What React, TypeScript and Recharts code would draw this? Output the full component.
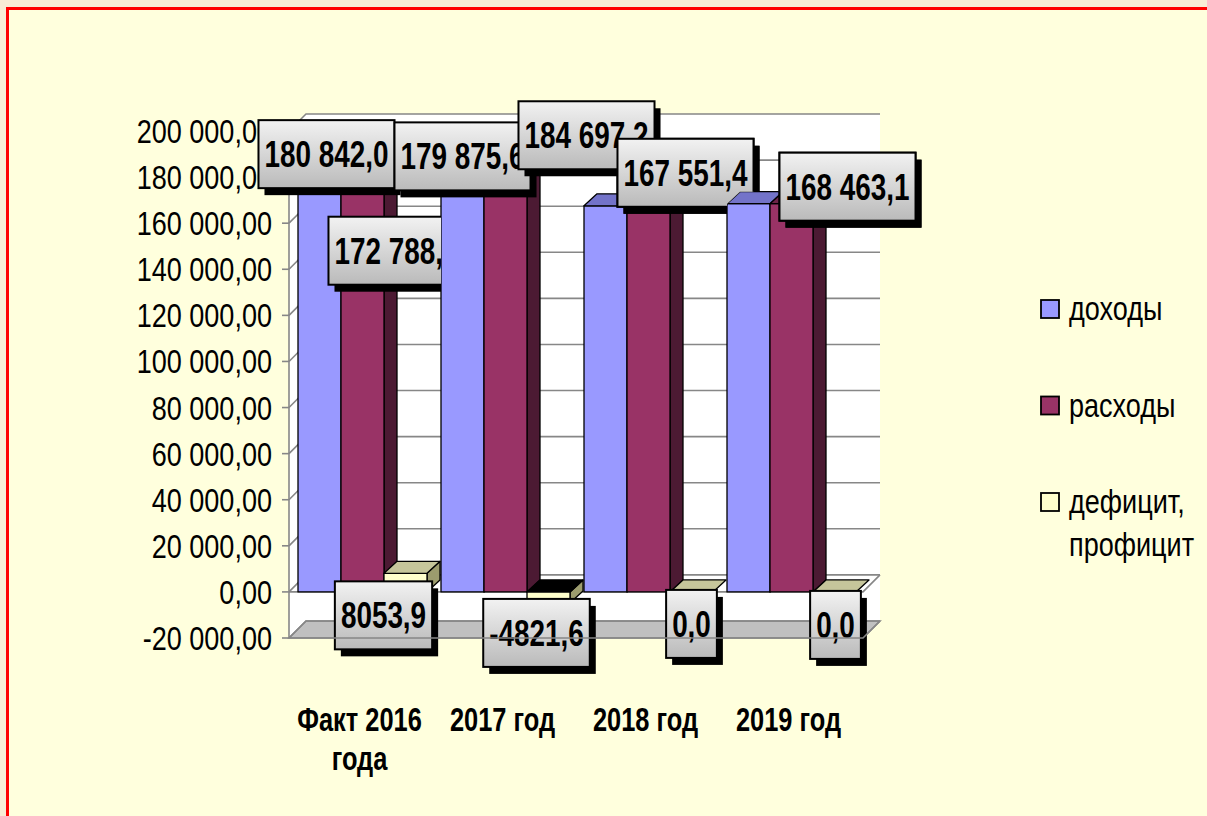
import React from 'react';
import { BarChart, Bar, XAxis, YAxis, CartesianGrid, LabelList } from 'recharts';

// values
const categories = ['Факт 2016\nгода', '2017 год', '2018 год', '2019 год'];
const income = [180842.0, 179875.6, 167551.4, 168463.1];
const expenses = [172788.1, 184697.2, 167551.4, 168463.1];
const balance = [8053.9, -4821.6, 0.0, 0.0];
const seriesNames = ['доходы', 'расходы', 'дефицит,\nпрофицит'];
const yTicks = [-20000, 0, 20000, 40000, 60000, 80000, 100000, 120000, 140000, 160000, 180000, 200000];

const rows = categories.map((name, i) => ({ name, income: income[i], expenses: expenses[i], balance: balance[i] }));

const W = 1207;
const H = 816;
const PLOT = { left: 289, top: 131, right: 863, bottom: 638 };
const PAD_LEFT = 2;
const BAND = (PLOT.right - PLOT.left - PAD_LEFT) / categories.length;
const Y_MIN = -20000;
const Y_MAX = 200000;
const WALL = { dx: 17, dy: -17 };
const DEPTH = { dx: 13, dy: -12 };
const Y_AXIS_W = 160;
const X_AXIS_H = 100;
// no Arial Narrow here: squeeze Liberation Sans to the same 82% width
const FONT = '"Liberation Sans", Arial, sans-serif';
const NARROW_X = 0.82;
const GRID = '#878787';
const LABEL_FS = 34;

const series = [
  { key: 'income', front: '#9999FF', top: '#7373C9', side: '#4D4D80' },
  { key: 'expenses', front: '#993366', top: '#6E2449', side: '#4C1A33' },
  { key: 'balance', front: '#FFFFCC', top: '#C6C69B', side: '#9C9C6E' },
];

// offsets of each label box from the top centre of its bar (labels were moved by hand in the original)
const labelNudge: Record<string, number[][]> = {
  income: [[7, -21], [0, -21], [80, -33], [99, -17]],
  expenses: [[34, 57], [81, -31], [37, -33], [56, -17]],
  balance: [[-22, 42], [-12, 41], [0, 32], [1, 33]],
};

const yPx = (v: number) => PLOT.top + ((Y_MAX - v) * (PLOT.bottom - PLOT.top)) / (Y_MAX - Y_MIN);

const fmt = (v: number, digits: number, groupAll: boolean) => {
  const [int, frac] = Math.abs(v).toFixed(digits).split('.');
  const grouped = groupAll || int.length > 4 ? int.replace(/\B(?=(\d{3})+(?!\d))/g, ' ') : int;
  return (v < 0 ? '-' : '') + grouped + (frac ? ',' + frac : '');
};

// rough advance widths of Arial Narrow Bold, in em
const textEm = (s: string) =>
  s.split('').reduce((a, c) => a + (c === ' ' || c === ',' ? 0.228 : c === '-' ? 0.273 : 0.456), 0);

const NText = ({ x, y, sy = 1, anchor = 'start', size, bold, children }: any) => (
  <text
    transform={`translate(${x} ${y}) scale(${NARROW_X} ${sy})`}
    textAnchor={anchor}
    fontFamily={FONT}
    fontWeight={bold ? 700 : 400}
    fontSize={size}
    fill="#000"
  >
    {children}
  </text>
);

function Box3D(props: any) {
  const { x, y, width, height, value, colors } = props;
  const top = Math.min(y, y + height);
  const h = Math.abs(height);
  const x2 = x + width;
  const { dx, dy } = DEPTH;
  const topFace = `M${x},${top} L${x + dx},${top + dy} L${x2 + dx},${top + dy} L${x2},${top} Z`;
  const sideFace = `M${x2},${top} L${x2 + dx},${top + dy} L${x2 + dx},${top + h + dy} L${x2},${top + h} Z`;
  return (
    <g stroke="#000" strokeWidth={1.3} strokeLinejoin="round">
      {h > 0 && <path d={sideFace} fill={colors.side} />}
      {h > 0 && <rect x={x} y={top} width={width} height={h} fill={colors.front} />}
      <path d={topFace} fill={value < 0 ? '#000' : colors.top} />
    </g>
  );
}

function makeLabel(key: string) {
  return (p: any) => {
    const vb = p.viewBox && p.viewBox.width !== undefined ? p.viewBox : p;
    const { x, y, width, height } = vb;
    const index = typeof p.index === 'number' ? p.index : Math.round((x - PLOT.left - PAD_LEFT) / BAND);
    const top = Math.min(y, y + (height || 0));
    const [nx, ny] = labelNudge[key][index];
    const cx = x + width / 2 + nx;
    const cy = top + ny;
    const text = fmt(Number(p.value), 1, false);
    const bw = textEm(text) * LABEL_FS + 12;
    const bh = 68;
    const bx = cx - bw / 2;
    const by = cy - bh / 2;

    // bars of the next category stand in front of this label
    let clip = null;
    const id = `lbl-${key}-${index}`;
    if (index + 1 < categories.length) {
      const seriesPos = series.findIndex((s) => s.key === key);
      const L = x - seriesPos * width + BAND;
      const T = yPx(income[index + 1]);
      const Z = yPx(0);
      const overlaps = bx + bw + 7 > L && by + bh + 7 > T + DEPTH.dy;
      if (overlaps) {
        const { dx, dy } = DEPTH;
        clip = (
          <clipPath id={id}>
            <path
              clipRule="evenodd"
              d={`M-2000,-2000 H4000 V4000 H-2000 Z M${L},${Z} L${L},${T} L${L + dx},${T + dy} L${L + width + dx},${T + dy} L${L + width + dx},${Z + dy} L${L + width},${Z} Z`}
            />
          </clipPath>
        );
      }
    }

    return (
      <g clipPath={clip ? `url(#${id})` : undefined}>
        {clip && <defs>{clip}</defs>}
        <rect x={bx + 6} y={by + 7} width={bw} height={bh} fill="#000" />
        <rect x={bx} y={by} width={bw} height={bh} fill="url(#lblGrad)" stroke="#000" strokeWidth={2} />
        <NText x={cx} y={cy + 13} sy={1.1} anchor="middle" size={LABEL_FS} bold>
          {text}
        </NText>
      </g>
    );
  };
}

const ValueTick = ({ x, y, payload }: any) => (
  <NText x={x} y={y + 12} anchor="end" size={33}>
    {fmt(payload.value, 2, true)}
  </NText>
);

const CategoryTick = ({ x, y, payload }: any) => (
  <g>
    {String(payload.value).split('\n').map((line, i) => (
      <NText key={i} x={x - 3} y={y + 85 + i * 39} sy={1.05} anchor="middle" size={31} bold>
        {line}
      </NText>
    ))}
  </g>
);

// back wall + side wall gridline
const GridLine = (p: any) => {
  const { x1, y1, x2 } = p;
  return (
    <path
      key={p.key}
      d={`M${x1},${y1} L${x1 + WALL.dx},${y1 + WALL.dy} L${x2 + WALL.dx},${y1 + WALL.dy}`}
      fill="none"
      stroke={GRID}
      strokeWidth={1.6}
    />
  );
};

export default function App() {
  const zeroY = yPx(0);
  return (
    <div style={{ position: 'fixed', left: 0, top: 0, width: W, height: H, overflow: 'hidden', background: '#F8EDD6' }}>
      <div style={{ position: 'absolute', left: 6, top: 7, width: W + 40, height: H + 40, border: '3px solid #FF0000', background: '#FFFFDD' }} />

      {/* 3-D walls and floor */}
      <svg width={W} height={H} style={{ position: 'absolute', left: 0, top: 0 }}>
        <defs>
          <linearGradient id="lblGrad" x1="0" y1="0" x2="0" y2="1">
            <stop offset="0%" stopColor="#F2F2F2" />
            <stop offset="100%" stopColor="#BABABA" />
          </linearGradient>
        </defs>
        <polygon
          points={`${PLOT.left},${PLOT.top} ${PLOT.left + WALL.dx},${PLOT.top + WALL.dy} ${PLOT.left + WALL.dx},${PLOT.bottom + WALL.dy} ${PLOT.left},${PLOT.bottom}`}
          fill="#FFFFFF"
        />
        <rect x={PLOT.left + WALL.dx} y={PLOT.top + WALL.dy} width={PLOT.right - PLOT.left} height={PLOT.bottom - PLOT.top} fill="#FFFFFF" />
        <polygon
          points={`${PLOT.left},${PLOT.bottom} ${PLOT.right},${PLOT.bottom} ${PLOT.right + WALL.dx},${PLOT.bottom + WALL.dy} ${PLOT.left + WALL.dx},${PLOT.bottom + WALL.dy}`}
          fill="#C0C0C0"
          stroke={GRID}
          strokeWidth={1.6}
        />
        <path d={`M${PLOT.left},${zeroY} L${PLOT.right},${zeroY} L${PLOT.right + WALL.dx},${zeroY + WALL.dy}`} fill="none" stroke={GRID} strokeWidth={1.6} />
      </svg>

      <div style={{ position: 'absolute', left: 0, top: 0 }}>
        <BarChart
          width={W}
          height={H}
          data={rows}
          barGap={0}
          barSize={43}
          margin={{ top: PLOT.top, right: W - PLOT.right, bottom: H - PLOT.bottom - X_AXIS_H, left: PLOT.left - Y_AXIS_W }}
        >
          <CartesianGrid vertical={false} horizontal={GridLine} />
          <XAxis dataKey="name" height={X_AXIS_H} axisLine={false} tickLine={false} interval={0} padding={{ left: PAD_LEFT, right: 0 }} tick={<CategoryTick />} />
          <YAxis
            type="number"
            width={Y_AXIS_W}
            domain={[Y_MIN, Y_MAX]}
            ticks={yTicks}
            interval={0}
            tickSize={7}
            tickMargin={10}
            axisLine={{ stroke: GRID, strokeWidth: 1.6 }}
            tickLine={{ stroke: GRID, strokeWidth: 1.6 }}
            tick={<ValueTick />}
          />
          {series.map((s) => (
            <Bar key={s.key} dataKey={s.key} isAnimationActive={false} shape={(p: any) => <Box3D {...p} colors={s} />}>
              <LabelList dataKey={s.key} content={makeLabel(s.key)} />
            </Bar>
          ))}
        </BarChart>
      </div>

      {/* front edge of the floor lies over the labels */}
      <svg width={W} height={H} style={{ position: 'absolute', left: 0, top: 0, pointerEvents: 'none' }}>
        <path
          d={`M${PLOT.left},${PLOT.bottom} L${PLOT.right},${PLOT.bottom} L${PLOT.right + WALL.dx},${PLOT.bottom + WALL.dy}`}
          fill="none"
          stroke={GRID}
          strokeWidth={1.6}
        />
      </svg>

      {/* legend */}
      <svg width={W} height={H} style={{ position: 'absolute', left: 0, top: 0, pointerEvents: 'none' }}>
        {seriesNames.map((name, i) => {
          const base = 320 + i * 96.5;
          return (
            <g key={name}>
              <rect x={1041} y={base - 20} width={18} height={18} fill={series[i].front} stroke="#000" strokeWidth={1.8} />
              {name.split('\n').map((line, j) => (
                <NText key={j} x={1069} y={base + j * 43} size={33}>
                  {line}
                </NText>
              ))}
            </g>
          );
        })}
      </svg>
    </div>
  );
}
